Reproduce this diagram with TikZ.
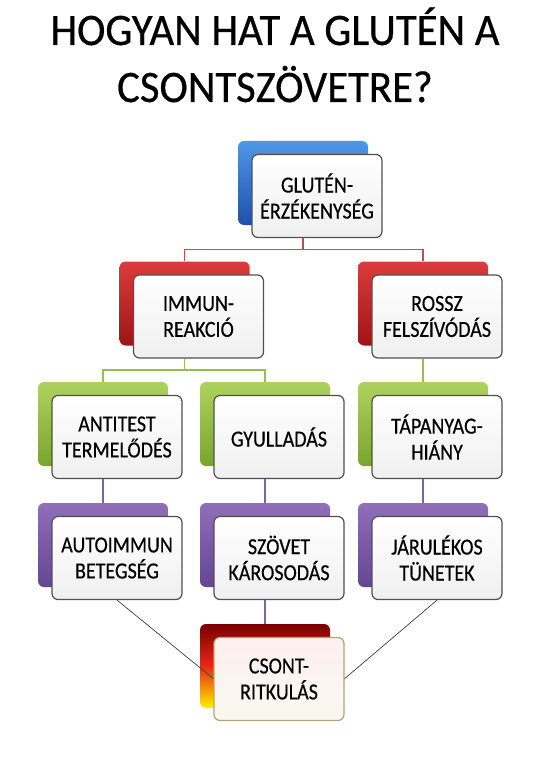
\documentclass[tikz,border=0pt]{standalone}
\usepackage{fontspec}
\setmainfont{Carlito}
\newfontfamily\boxfont[FakeStretch=0.87, FakeBold=0.4]{Carlito}
\newfontfamily\titlefont[FakeStretch=0.95, FakeBold=0.5]{Carlito}
\usetikzlibrary{positioning,calc}
\definecolor{redline}{RGB}{192,80,77}
\definecolor{greenline}{RGB}{155,187,89}
\definecolor{purpleline}{RGB}{128,100,162}
\definecolor{frameline}{RGB}{80,80,80}
\tikzset{backbox/.style={rectangle, rounded corners=6pt, minimum width=130pt, minimum height=84pt, inner sep=0pt},
  bluebox/.style={backbox, top color={rgb,255:red,80;green,150;blue,230}, bottom color={rgb,255:red,30;green,80;blue,170}},
  redbox/.style={backbox, top color={rgb,255:red,220;green,60;blue,60}, bottom color={rgb,255:red,160;green,20;blue,20}},
  greenbox/.style={backbox, top color={rgb,255:red,175;green,210;blue,95}, bottom color={rgb,255:red,120;green,165;blue,45}},
  purplebox/.style={backbox, top color={rgb,255:red,145;green,110;blue,185}, bottom color={rgb,255:red,100;green,70;blue,145}},
  firebox/.style={backbox, top color={rgb,255:red,120;green,0;blue,0}, bottom color={rgb,255:red,255;green,240;blue,0}, middle color={rgb,255:red,230;green,40;blue,20}},
  frontbox/.style={rectangle, rounded corners=6pt, draw=frameline, line width=1.2pt, top color=white, bottom color=gray!12, minimum width=130pt, minimum height=83pt, align=center, font=\boxfont\fontsize{23}{26}\selectfont},
  lastbox/.style={frontbox, draw={rgb,255:red,175;green,165;blue,125}, top color={rgb,255:red,252;green,240;blue,240}, bottom color={rgb,255:red,250;green,248;blue,240}},
  titletext/.style={anchor=base, inner sep=0pt, font=\titlefont\fontsize{45}{57}\selectfont},
  link/.style={line width=1.5pt},
  thinlink/.style={line width=0.7pt, draw=black!75}}
\begin{document}
\begin{tikzpicture}[x=1pt, y=-1pt]
\path[use as bounding box, fill=white] (0,0) rectangle (554,778);
% title
\node[titletext] (title) at (275,45) {HOGYAN HAT A GLUTÉN A};
\node[titletext] (subtitle) at (275,102) {CSONTSZÖVETRE?};

% coloured boxes behind
\node[bluebox] (glutenb) at (303,183) {};
\node[redbox] (immunb) at (184.5,303.5) {};
\node[redbox] (rosszb) at (423,303.5) {};
\node[greenbox] (antitestb) at (103,424) {};
\node[greenbox] (gyulladasb) at (265,424) {};
\node[greenbox] (tapanyagb) at (423,424) {};
\node[purplebox] (autoimmunb) at (103,545) {};
\node[purplebox] (szovetb) at (265,545) {};
\node[purplebox] (jarulekosb) at (423,545) {};
\node[firebox] (csontb) at (265,666) {};

% white boxes in front
\node[frontbox] (gluten) at ([shift={(14,13)}]glutenb) {GLUTÉN-\\ÉRZÉKENYSÉG};
\node[frontbox] (immun) at ([shift={(14,13)}]immunb) {IMMUN-\\REAKCIÓ};
\node[frontbox] (rossz) at ([shift={(14,13)}]rosszb) {ROSSZ\\FELSZÍVÓDÁS};
\node[frontbox] (antitest) at ([shift={(14,13)}]antitestb) {ANTITEST\\TERMELŐDÉS};
\node[frontbox] (gyulladas) at ([shift={(14,13)}]gyulladasb) {GYULLADÁS};
\node[frontbox] (tapanyag) at ([shift={(14,13)}]tapanyagb) {TÁPANYAG-\\HIÁNY};
\node[frontbox] (autoimmun) at ([shift={(14,13)}]autoimmunb) {AUTOIMMUN\\BETEGSÉG};
\node[frontbox] (szovet) at ([shift={(14,13)}]szovetb) {SZÖVET\\KÁROSODÁS};
\node[frontbox] (jarulekos) at ([shift={(14,13)}]jarulekosb) {JÁRULÉKOS\\TÜNETEK};

% connectors
\coordinate (rsplit) at ($(glutenb |- gluten.south)!.5!(glutenb.north |- immunb.north)$);
\draw[link, redline] (glutenb |- gluten.south) -- (rsplit) -| (immunb.north);
\draw[link, redline] (rsplit) -| (rosszb.north);
\coordinate (gsplit) at ($(immunb |- immun.south)!.5!(immunb.north |- antitestb.north)$);
\draw[link, greenline] (immunb |- immun.south) -- (gsplit) -| (antitestb.north);
\draw[link, greenline] (gsplit) -| (gyulladasb.north);
\draw[link, greenline] (rosszb |- rossz.south) -- (tapanyagb.north);
\draw[link, purpleline] (antitestb |- antitest.south) -- (autoimmunb.north);
\draw[link, purpleline] (gyulladasb |- gyulladas.south) -- (szovetb.north);
\draw[link, purpleline] (tapanyagb |- tapanyag.south) -- (jarulekosb.north);
\draw[link, purpleline] (szovetb |- szovet.south) -- (csontb.north);
\draw[thinlink] (autoimmun.south) -- ([shift={(14,13)}]csontb.west);
\draw[thinlink] (jarulekos.south) -- ([shift={(14,13)}]csontb.east);

\node[lastbox] (csont) at ([shift={(14,13)}]csontb) {CSONT-\\RITKULÁS};
\end{tikzpicture}
\end{document}
